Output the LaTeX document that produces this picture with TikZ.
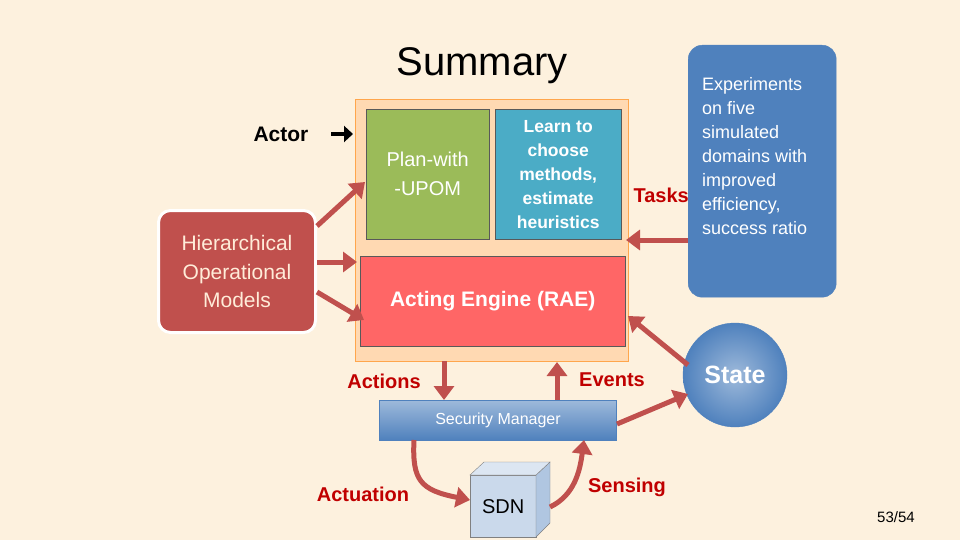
\documentclass[tikz,border=0pt]{standalone}
\usepackage{fontspec}
\setmainfont{Liberation Sans}
\usetikzlibrary{arrows.meta,shapes.geometric}
\definecolor{bgc}{HTML}{FDF1DE}
\definecolor{arr}{HTML}{C0504D}
\definecolor{lbl}{HTML}{C00000}
\definecolor{blu}{HTML}{4F81BD}
\tikzset{
  fat/.style={draw=arr,line width=5pt,-{Triangle[length=14pt,width=20pt]}},
  lab/.style={text=lbl,font=\bfseries\fontsize{20}{20}\selectfont},
  box/.style={draw=gray!70!black,text=white,align=center,inner sep=0pt}
}
\begin{document}
\begin{tikzpicture}[x=1pt,y=-1pt]
\fill[bgc] (0,0) rectangle (960,540);
\useasboundingbox (0,0) rectangle (960,540);
\node (title) at (482,66) {\fontsize{40}{40}\selectfont Summary};
% container
\node[fill=orange!30,draw=orange!70,anchor=north west,minimum width=273pt,minimum height=262pt,inner sep=0pt] (cont) at (355,99) {};
\node[box,fill={rgb,255:red,155;green,187;blue,89},anchor=north west,minimum width=123pt,minimum height=130pt,font=\fontsize{20}{29}\selectfont] (plan) at (366,109) {Plan-with\\-UPOM};
\node[box,fill={rgb,255:red,75;green,172;blue,198},anchor=north west,minimum width=126pt,minimum height=130pt,font=\bfseries\fontsize{17.5}{24}\selectfont] (learn) at (495,109) {Learn to\\choose\\methods,\\estimate\\heuristics};
\node[box,fill={rgb,255:red,255;green,102;blue,102},anchor=north west,minimum width=265pt,minimum height=90pt,font=\bfseries\fontsize{21}{21}\selectfont] (rae) at (360,256) {Acting Engine (RAE)};
\node[fill={rgb,255:red,192;green,80;blue,77},draw=white,line width=3pt,rounded corners=12pt,text=white!85!orange,align=center,anchor=north west,minimum width=157pt,minimum height=122pt,inner sep=0pt,font=\fontsize{21}{28.5}\selectfont] (hom) at (157,209) {Hierarchical\\Operational\\Models};
\node[font=\bfseries\fontsize{21}{21}\selectfont,text=black] (actor) at (281,134) {Actor};
\coordinate (a0) at (331,134);
\coordinate (a1) at (353,134);
\draw[line width=4.5pt,-{Triangle[length=9pt,width=16pt]}] (a0) -- (a1);
% tasks
\node[lab,anchor=west] (tasks) at (630,195) {Tasks};
% blue experiments box
\node[fill=blu,draw=blu,rounded corners=14pt,minimum width=148pt,minimum height=252pt,anchor=north west,inner sep=0pt] (exp) at (688,45) {};
\node[text=white,align=left,anchor=north west,font=\fontsize{18}{24}\selectfont,inner sep=0pt] (expt) at (702,77)
 {Experiments\\on five\\simulated\\domains with\\improved\\efficiency,\\success ratio};
\coordinate (tk) at (688,240);
\coordinate (tk2) at (626,240);
\draw[fat] (tk) -- (tk2);
% state
\node[circle,shading=radial,inner color=blu!55,outer color=blu,draw=blu,minimum width=104pt,minimum height=94pt,inner sep=0pt,text=white,font=\bfseries\fontsize{25}{25}\selectfont] (state) at (735,375) {State};
% security manager
\node[draw=blu,top color=blu!55,bottom color=blu,text=white,minimum width=237pt,minimum height=40pt,inner sep=0pt,font=\fontsize{16}{16}\selectfont] (sec) at (498,420) {Security Manager};
% SDN cube
\node[draw=gray,fill=blu!30,anchor=north west,minimum width=66pt,minimum height=62pt,inner sep=0pt,font=\fontsize{20}{20}\selectfont] (sdn) at (470,475) {SDN};
\fill[blu!45,draw=gray] (536,475) -- (550,462) -- (550,523) -- (536,537) -- cycle;
\fill[blu!20,draw=gray] (470,475) -- (484,462) -- (550,462) -- (536,475) -- cycle;
% labels
\node[lab] (act) at (384,381) {Actions};
\node[lab] (ev) at (612,380) {Events};
\node[lab] (actu) at (363,494) {Actuation};
\node[lab] (sens) at (627,487) {Sensing};
% arrows
\draw[fat] (hom.east |- 0,226) -- (365,182);
\draw[fat] (hom.east |- 0,262) -- (357,262);
\draw[fat] (hom.east |- 0,292) -- (364,320);
\draw[fat] (444,361) -- (444,400);
\draw[fat] (557,400) -- (557,362);
\draw[fat] (617,424) -- (688,394);
\draw[fat] (688,365) -- (628,316);
\draw[fat] (414,440) .. controls (412,480) and (420,490) .. (470,500);
\draw[fat] (550,507) .. controls (575,495) and (580,470) .. (584,440);
\node[font=\fontsize{15}{15}\selectfont] (pg) at (896,517) {53/54};
\end{tikzpicture}
\end{document}
